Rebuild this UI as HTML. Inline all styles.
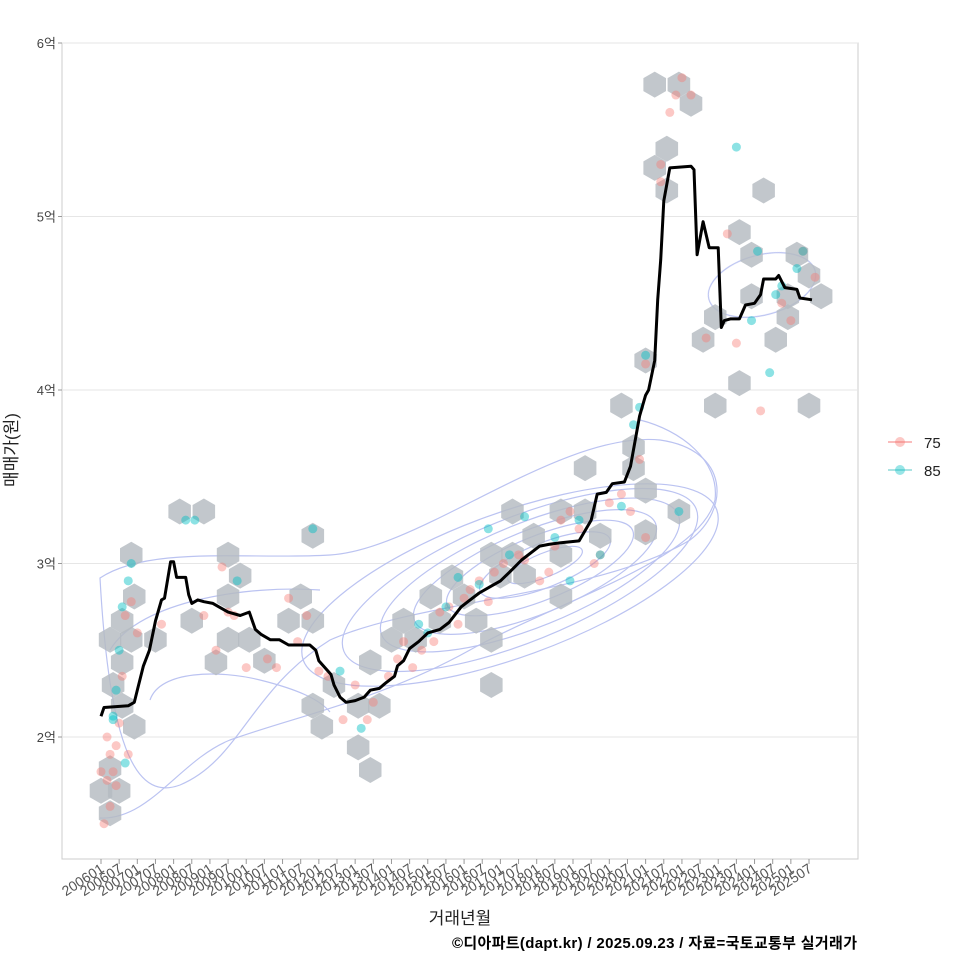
<!DOCTYPE html>
<html><head><meta charset="utf-8"><style>
body{margin:0;background:#fff;width:960px;height:960px;overflow:hidden}
svg{font-family:"Liberation Sans","Noto Sans CJK KR",sans-serif}
</style></head><body>
<svg id="chart" width="960" height="960" xmlns="http://www.w3.org/2000/svg">
<rect x="62" y="43" width="796" height="816" fill="#fff" stroke="#ccc"/>
<g id="grid"></g>
<g id="contours" fill="none" stroke="#aab4ee" stroke-width="1.2" opacity="0.8">
<path d="M100,578 C150,545 250,560 330,555 C420,550 560,430 660,440 C730,450 730,510 690,540 C600,595 420,600 330,640 C250,690 240,760 180,785 C140,800 110,760 100,578Z"/>
<path d="M100,818 C150,820 180,760 230,740 C300,715 380,700 470,650 C560,600 700,560 715,500 C720,460 680,430 640,420"/>
<path d="M150,700 C160,670 220,670 260,680 C300,690 320,700 330,712"/>
<path d="M110,650 C140,600 250,585 320,590"/>
<ellipse cx="545" cy="565" rx="40" ry="12" transform="rotate(-22 545 565)"/>
<ellipse cx="545" cy="565" rx="70" ry="22" transform="rotate(-22 545 565)"/>
<ellipse cx="540" cy="568" rx="100" ry="32" transform="rotate(-22 540 568)"/>
<ellipse cx="535" cy="572" rx="130" ry="42" transform="rotate(-22 535 572)"/>
<ellipse cx="530" cy="575" rx="160" ry="52" transform="rotate(-22 530 575)"/>
<ellipse cx="520" cy="580" rx="190" ry="62" transform="rotate(-22 520 580)"/>
<ellipse cx="510" cy="585" rx="220" ry="72" transform="rotate(-20 510 585)"/>
<ellipse cx="762" cy="285" rx="55" ry="30" transform="rotate(-15 762 285)"/>
</g>
<g id="hexes"></g>
<g id="dots"></g>
<g id="line"></g>
<g id="axes"></g>
<text x="17" y="450" font-size="17" text-anchor="middle" transform="rotate(-90 17 450)" fill="#222">매매가(원)</text>
<text x="460" y="924" font-size="17" text-anchor="middle" fill="#222">거래년월</text>
<text x="857" y="948" font-size="15" font-weight="bold" text-anchor="end" fill="#000" textLength="405">©디아파트(dapt.kr) / 2025.09.23 / 자료=국토교통부 실거래가</text>
<g>
<g><line x1="888" y1="442" x2="912" y2="442" stroke="#f8a5a5" stroke-width="1.5"/><circle cx="900" cy="442" r="5" fill="#f8766d" opacity="0.4"/><text x="924" y="448" font-size="15" fill="#222">75</text></g>
<g><line x1="888" y1="470" x2="912" y2="470" stroke="#8fdada" stroke-width="1.5"/><circle cx="900" cy="470" r="5" fill="#00bfc4" opacity="0.4"/><text x="924" y="476" font-size="15" fill="#222">85</text></g>
</g>
</svg>
<script>
const yTicks=[2,3,4,5,6];
const yTickLabels=["2억","3억","4억","5억","6억"];
const xTickLabels=[];for(let y=2006;y<=2025;y++){xTickLabels.push(y+"01");xTickLabels.push(y+"07");}
const lineMonths=[0,1,9,11,12,14,16,18,20,21,23,24,25,28,29,30,32,34,37,39,42,46,49,51,53,56,59,62,69,71,72,74,76,77,79,81,84,87,89,92,94,97,98,100,102,105,108,112,115,119,122,125,129,132,135,139,142,145,148,152,158,162,164,167,169,173,175,178,180,181,183,184,185,186,188,195,196,197,199,201,204,205,206,208,211,213,216,218,219,223,224,226,230,231,235];
const lineValues=[2.12,2.17,2.18,2.20,2.27,2.41,2.50,2.67,2.79,2.80,3.01,3.01,2.92,2.92,2.82,2.77,2.79,2.78,2.77,2.75,2.72,2.70,2.72,2.62,2.59,2.56,2.56,2.53,2.53,2.50,2.44,2.40,2.36,2.30,2.23,2.20,2.21,2.23,2.27,2.28,2.31,2.35,2.41,2.44,2.51,2.55,2.60,2.62,2.66,2.75,2.79,2.83,2.87,2.90,2.95,3.02,3.06,3.10,3.11,3.12,3.13,3.25,3.40,3.41,3.46,3.47,3.56,3.85,3.97,4.00,4.17,4.52,4.75,5.09,5.28,5.29,5.27,4.78,4.97,4.82,4.82,4.36,4.40,4.41,4.41,4.49,4.50,4.55,4.64,4.64,4.66,4.59,4.58,4.53,4.52];
const hexMonths=[0,3,6,3,4,7,3,7,10,11,10,11,7,18,26,34,30,42,46,42,42,38,49,54,66,62,70,70,70,73,77,85,89,85,92,89,96,100,104,109,116,112,120,124,129,129,129,132,136,136,140,143,152,152,152,160,165,160,172,176,180,176,180,191,183,191,195,187,183,187,180,199,203,203,211,215,215,211,223,219,230,234,238,227,227,234];
const hexValues=[1.69,1.56,1.69,1.82,2.30,2.43,2.56,2.67,2.56,2.81,3.05,2.06,2.18,2.56,3.30,3.30,2.67,3.05,2.93,2.81,2.56,2.43,2.56,2.44,2.81,2.67,2.67,3.16,2.18,2.06,2.30,1.94,1.81,2.18,2.18,2.43,2.56,2.67,2.56,2.81,2.92,2.67,2.81,2.67,2.56,2.30,3.05,2.93,3.30,3.05,2.93,3.16,3.30,3.05,2.81,3.30,3.16,3.55,3.91,3.55,3.42,3.67,3.18,3.30,5.76,5.76,5.65,5.39,5.28,5.15,4.17,4.29,3.91,4.42,4.91,4.78,4.54,4.04,4.29,5.15,4.78,4.66,4.54,4.54,4.42,3.91];
const pinkMonths=[0,1,2,3,3,4,5,6,7,8,2,5,9,10,12,20,34,38,40,42,44,48,55,58,62,65,68,72,75,80,84,88,90,95,98,100,103,106,110,112,115,118,120,122,125,128,130,133,138,140,145,148,150,152,155,158,163,165,168,172,175,178,180,185,188,190,192,195,200,207,210,218,225,228,232,236,180,185];
const pinkValues=[1.80,1.50,1.75,1.90,1.60,1.80,1.95,2.08,2.35,2.70,2.00,1.72,1.90,2.78,2.60,2.65,2.70,2.50,2.98,2.72,2.70,2.40,2.45,2.40,2.80,2.55,2.70,2.38,2.35,2.10,2.30,2.10,2.20,2.35,2.45,2.55,2.40,2.50,2.55,2.72,2.75,2.65,2.80,2.85,2.90,2.78,2.95,3.00,3.05,3.02,2.90,2.95,3.10,3.25,3.30,3.20,3.00,3.05,3.35,3.40,3.30,3.60,4.15,5.20,5.60,5.70,5.80,5.70,4.30,4.90,4.27,3.88,4.50,4.40,4.80,4.65,3.15,5.30];
const tealMonths=[4,4,5,6,7,9,10,8,28,31,45,70,79,86,105,108,114,118,125,128,135,140,150,155,158,165,172,176,178,180,191,210,215,217,221,223,225,230,232];
const tealValues=[2.10,2.12,2.27,2.50,2.75,2.90,3.00,1.85,3.25,3.25,2.90,3.20,2.38,2.05,2.65,2.60,2.75,2.92,2.88,3.20,3.05,3.27,3.15,2.90,3.25,3.05,3.33,3.80,3.90,4.20,3.30,5.40,4.40,4.80,4.10,4.55,4.60,4.70,4.80];

const NS="http://www.w3.org/2000/svg";
const xs=m=>101+m*18.154/6;
const ys=v=>737-(v-2)*173.5;
function mk(tag,attrs,parent){const e=document.createElementNS(NS,tag);for(const k in attrs)e.setAttribute(k,attrs[k]);parent.appendChild(e);return e;}
const grid=document.getElementById('grid'),axes=document.getElementById('axes');
yTicks.forEach((v,i)=>{
  const gl=mk('line',{x1:62,x2:858,y1:ys(v),y2:ys(v),stroke:'#e6e6e6','stroke-width':1},grid);
  
  
  mk('line',{x1:58,x2:62,y1:ys(v),y2:ys(v),stroke:'#999'},axes);
  const t=mk('text',{x:56,y:ys(v)+5,'font-size':13,'text-anchor':'end',fill:'#444'},axes);
  t.textContent=yTickLabels[i];
  
  
});
xTickLabels.forEach((lab,i)=>{
  const x=xs(i*6);
  mk('line',{x1:x,x2:x,y1:859,y2:864,stroke:'#999'},axes);
  const t=mk('text',{x:x+4,y:871,'font-size':14,'text-anchor':'end',fill:'#555',transform:`rotate(-33 ${x+4} 871)`},axes);
  t.textContent=lab;
  
  
});
const hexG=document.getElementById('hexes');
const R=13;
hexMonths.forEach((m,i)=>{
  const cx=xs(m),cy=ys(hexValues[i]);let p=[];
  for(let k=0;k<6;k++){const a=Math.PI/6+k*Math.PI/3;p.push((cx+R*Math.cos(a)).toFixed(1)+','+(cy+R*Math.sin(a)).toFixed(1));}
  const h=mk('polygon',{points:p.join(' '),fill:'#b4bbc1',opacity:0.82},hexG);
  
  
});
const dotG=document.getElementById('dots');
pinkMonths.forEach((m,i)=>{
  const c=mk('circle',{cx:xs(m),cy:ys(pinkValues[i]),r:4.5,fill:'#f8766d',opacity:0.4},dotG);
  
  
});
tealMonths.forEach((m,i)=>{
  const c=mk('circle',{cx:xs(m),cy:ys(tealValues[i]),r:4.5,fill:'#00bfc4',opacity:0.45},dotG);
  
  
});
const d=lineMonths.map((m,i)=>(i?'L':'M')+xs(m).toFixed(1)+','+ys(lineValues[i]).toFixed(1)).join(' ');
const pl=mk('path',{d:d,fill:'none',stroke:'#000','stroke-width':3,'stroke-linejoin':'round'},document.getElementById('line'));


</script>
</body></html>
